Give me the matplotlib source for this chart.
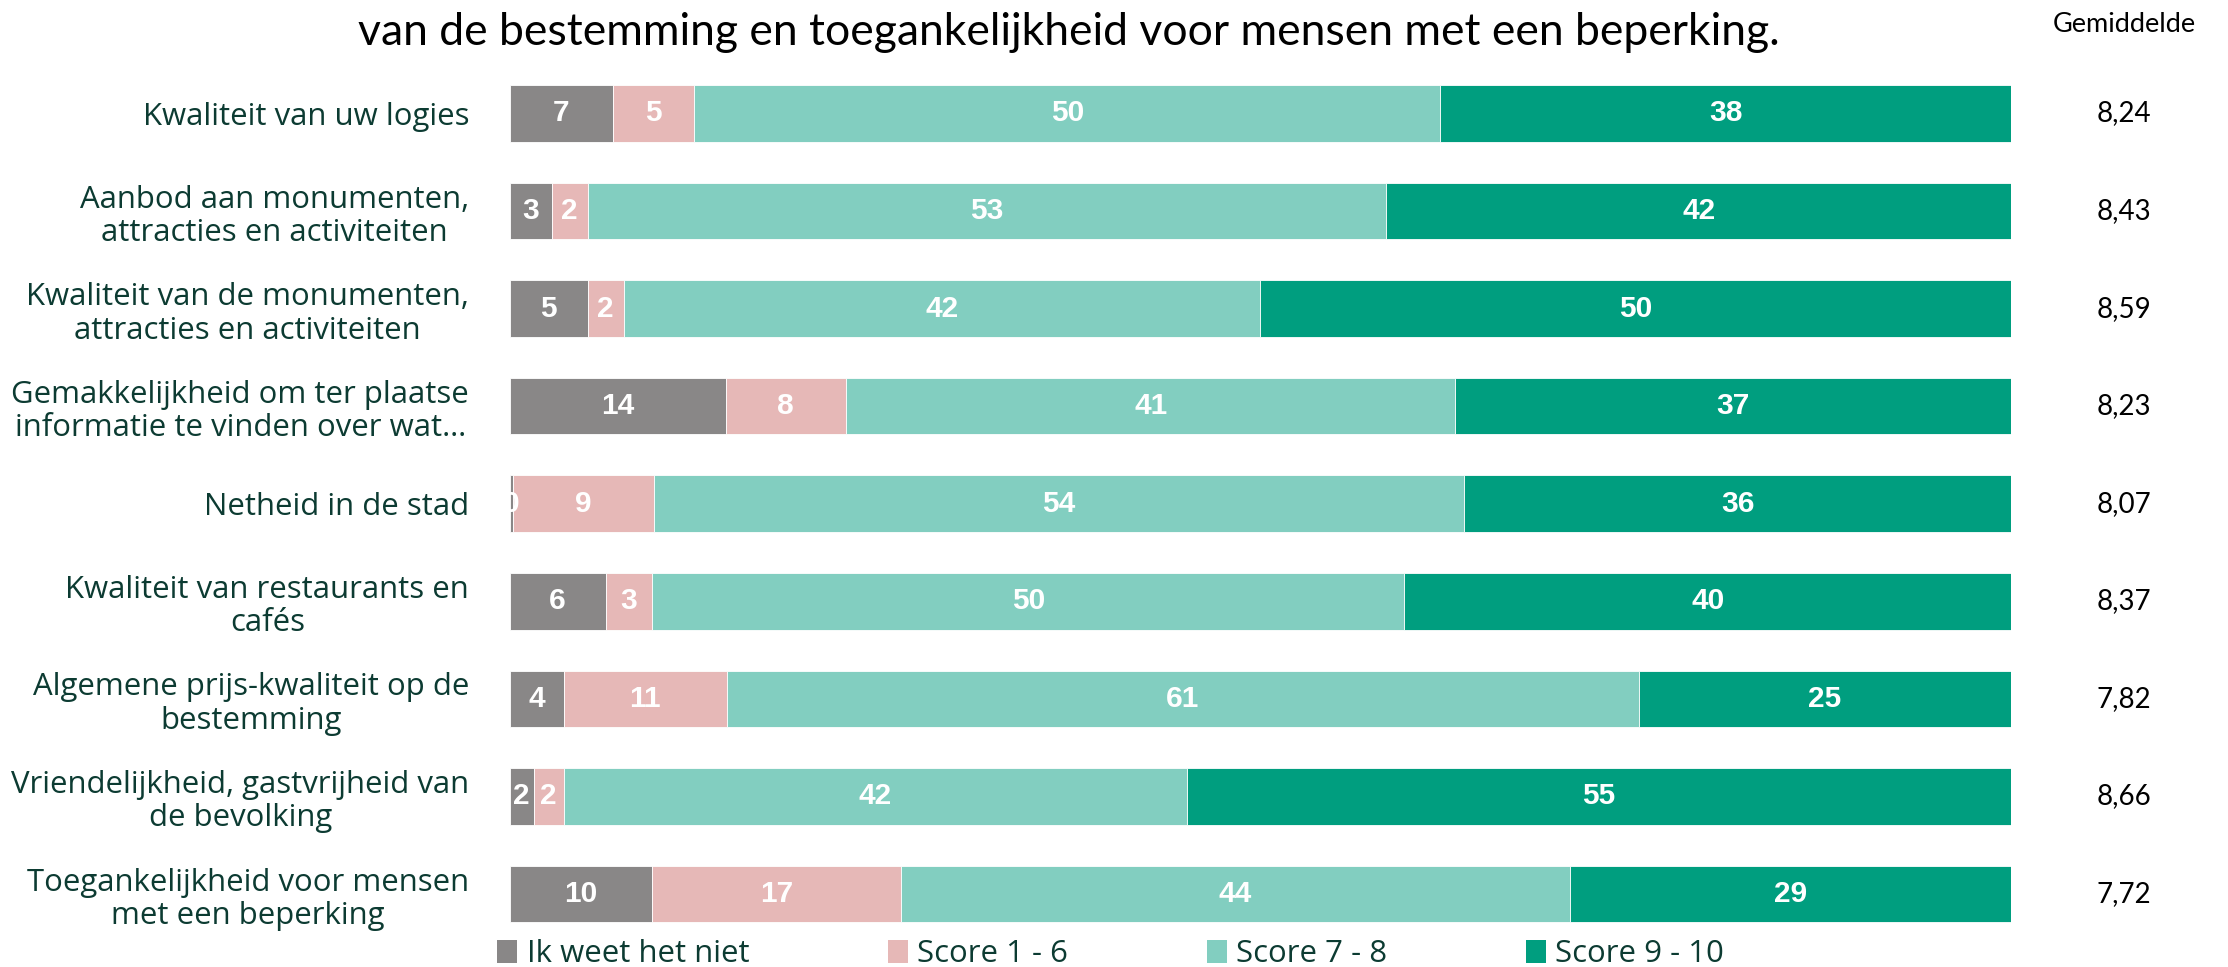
import matplotlib
matplotlib.use("Agg")
import matplotlib.pyplot as plt
from matplotlib.patches import Patch
from matplotlib.transforms import blended_transform_factory

# categories (top to bottom)
categories = [
    "Kwaliteit van uw logies",
    "Aanbod aan monumenten,\nattracties en activiteiten",
    "Kwaliteit van de monumenten,\nattracties en activiteiten",
    "Gemakkelijkheid om ter plaatse\ninformatie te vinden over wat…",
    "Netheid in de stad",
    "Kwaliteit van restaurants en\ncafés",
    "Algemene prijs-kwaliteit op de\nbestemming",
    "Vriendelijkheid, gastvrijheid van\nde bevolking",
    "Toegankelijkheid voor mensen\nmet een beperking",
]

# shares in % per answer group
weet_niet = [6.9, 2.8, 5.2, 14.4, 0.2, 6.4, 3.6, 1.6, 9.5]
score_1_6 = [5.4, 2.4, 2.4, 8.0, 9.4, 3.1, 10.9, 2.0, 16.6]
score_7_8 = [49.7, 53.2, 42.4, 40.6, 54.0, 50.1, 60.7, 41.5, 44.5]
score_9_10 = [38.0, 41.6, 50.0, 37.0, 36.4, 40.4, 24.8, 54.9, 29.4]

gemiddelde = [8.24, 8.43, 8.59, 8.23, 8.07, 8.37, 7.82, 8.66, 7.72]

series_names = ["Ik weet het niet", "Score 1 - 6", "Score 7 - 8", "Score 9 - 10"]
colors = ["#898787", "#e6b8b7", "#82cec0", "#009e7f"]

title = "van de bestemming en toegankelijkheid voor mensen met een beperking."

W, H = 2228, 967
fig = plt.figure(figsize=(W / 100, H / 100), dpi=100)

# axes placement in pixels of the reference
left_px, right_px = 509.5, 2011
top_px, bottom_px = 64.7, 942.8
ax = fig.add_axes([left_px / W, 1 - bottom_px / H,
                   (right_px - left_px) / W, (bottom_px - top_px) / H])

label_color = "#0c3b32"
label_font = "Open Sans"
label_size = 22.4
y = list(range(len(categories)))
series = [weet_niet, score_1_6, score_7_8, score_9_10]

lefts = [0.0] * len(categories)
for vals, name, col in zip(series, series_names, colors):
    bars = ax.barh(y, vals, left=lefts, height=0.58, color=col,
                   edgecolor="white", linewidth=0.6, label=name)
    for b, v in zip(bars, vals):
        ax.text(b.get_x() + b.get_width() / 2, b.get_y() + b.get_height() / 2,
                f"{v:.0f}", ha="center", va="center", color="white",
                fontsize=21.5, fontweight="bold", family="Liberation Sans")
    lefts = [l + v for l, v in zip(lefts, vals)]

ax.set_xlim(0, 100)
ax.set_ylim(len(categories) - 0.5, -0.5)
ax.set_yticks(y)
ax.set_yticklabels(categories, fontsize=label_size, color=label_color,
                   family=label_font, linespacing=1.15)
for t in ax.get_yticklabels():
    t.set_multialignment("center")
ax.tick_params(axis="y", length=0, pad=29)
ax.set_xticks([])
for s in ax.spines.values():
    s.set_visible(False)

# average scores column
col_tr = blended_transform_factory(fig.transFigure, ax.transData)
for yi, g in zip(y, gemiddelde):
    ax.text(2124 / W, yi, f"{g:.2f}".replace(".", ","), transform=col_tr,
            ha="center", va="center", fontsize=20, family="Lato", color="black")

fig.text(2124 / W, 1 - 24 / H, "Gemiddelde", ha="center", va="center",
         fontsize=19.5, family="Lato", color="black")

fig.text(1069 / W, 1 - 45 / H, title, ha="center", va="baseline",
         fontsize=32, family="Lato", color="black")

handles = [Patch(facecolor=c, edgecolor="none") for c in colors]
leg = fig.legend(handles, series_names, loc="center left",
                 bbox_to_anchor=(497 / W, 1 - 954 / H), ncol=4, frameon=False,
                 handlelength=0.65, handleheight=0.75, handletextpad=0.3,
                 columnspacing=4.45, borderpad=0, borderaxespad=0,
                 prop={"family": label_font, "size": label_size})
for t in leg.get_texts():
    t.set_color(label_color)

fig.savefig("out.png", dpi=100, facecolor="white")
